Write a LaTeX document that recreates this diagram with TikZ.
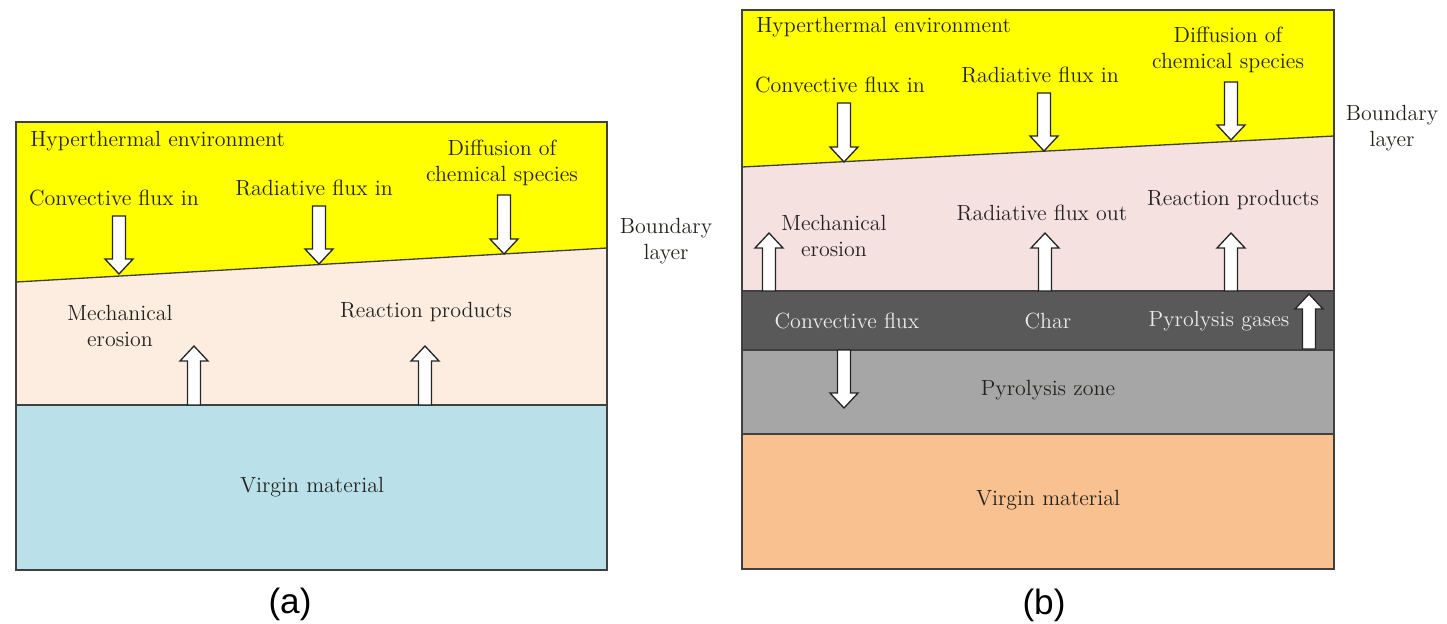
\documentclass[tikz,border=0pt]{standalone}
\usepackage{fontspec}
\setsansfont{Liberation Sans}

\definecolor{hyperyellow}{RGB}{255,255,0}
\definecolor{peach}{RGB}{252,237,224}
\definecolor{virginblue}{RGB}{186,224,234}
\definecolor{pinklayer}{RGB}{246,225,225}
\definecolor{charband}{RGB}{89,89,89}
\definecolor{pyrozone}{RGB}{166,166,166}
\definecolor{virginorange}{RGB}{249,192,144}
\definecolor{txt}{RGB}{35,35,30}

% block arrows: x, start y, tip y (pixel units, y downwards)
\newcommand{\fluxdown}[3]{%
  \filldraw[flux] ({#1-6.5},#2) -- ({#1+6.5},#2) -- ({#1+6.5},{#3-15}) -- ({#1+14},{#3-15})
    -- (#1,#3) -- ({#1-14},{#3-15}) -- ({#1-6.5},{#3-15}) -- cycle;}
\newcommand{\fluxup}[3]{%
  \filldraw[flux] ({#1-6.5},#2) -- ({#1+6.5},#2) -- ({#1+6.5},{#3+15}) -- ({#1+14},{#3+15})
    -- (#1,#3) -- ({#1-14},{#3+15}) -- ({#1-6.5},{#3+15}) -- cycle;}

\begin{document}
\begin{tikzpicture}[x=0.02cm, y=-0.02cm,
  flux/.style={fill=white, draw=black!85, line width=0.75pt},
  frame/.style={draw=black!75, line width=0.75pt},
  lbl/.style={font=\fontsize{12.5}{15}\selectfont, text=txt, align=center, inner sep=0pt},
  darklbl/.style={lbl, text=black!8},
  caption/.style={font=\sffamily\fontsize{20}{22}\selectfont, inner sep=0pt}]

\useasboundingbox (0,0) rectangle (1447,623);

% ---------- panel (a) ----------
\fill[hyperyellow] (16,122) -- (607,122) -- (607,248) -- (16,282) -- cycle;
\fill[peach] (16,282) -- (607,248) -- (607,405) -- (16,405) -- cycle;
\fill[virginblue] (16,405) rectangle (607,570);
\draw[frame] (16,122) rectangle (607,570);
\draw[frame] (16,282) -- (607,248);
\draw[frame] (16,405) -- (607,405);

\node[lbl, anchor=west] (hypA) at (30,141) {Hyperthermal environment};
\node[lbl] (convA) at (114,198) {Convective flux in};
\node[lbl] (radA) at (314,188) {Radiative flux in};
\node[lbl] (diffA) at (502,163) {Diffusion of\\chemical species};
\node[lbl] (blA) at (666,241) {Boundary\\layer};
\node[lbl] (mechA) at (120,326) {Mechanical\\erosion};
\node[lbl] (reacA) at (426,312) {Reaction products};
\node[lbl] (virgA) at (312,487) {Virgin material};
\node[caption] (capA) at (290,604) {(a)};

\fluxdown{119}{216}{274}
\fluxdown{319}{206}{264}
\fluxdown{504}{195}{254}
\fluxup{194}{405}{346}
\fluxup{425}{405}{346}

% ---------- panel (b) ----------
\fill[hyperyellow] (742,10) -- (1334,10) -- (1334,136) -- (742,167) -- cycle;
\fill[pinklayer] (742,167) -- (1334,136) -- (1334,291) -- (742,291) -- cycle;
\fill[charband] (742,291) rectangle (1334,350);
\fill[pyrozone] (742,350) rectangle (1334,434);
\fill[virginorange] (742,434) rectangle (1334,569);
\draw[frame] (742,10) rectangle (1334,569);
\draw[frame] (742,167) -- (1334,136);
\draw[frame] (742,291) -- (1334,291);
\draw[frame] (742,350) -- (1334,350);
\draw[frame] (742,434) -- (1334,434);

\node[lbl, anchor=west] (hypB) at (756,27) {Hyperthermal environment};
\node[lbl] (convB) at (840,85) {Convective flux in};
\node[lbl] (radB) at (1040,75) {Radiative flux in};
\node[lbl] (diffB) at (1228,50) {Diffusion of\\chemical species};
\node[lbl] (blB) at (1392,128) {Boundary\\layer};
\node[lbl] (mechB) at (834,236) {Mechanical\\erosion};
\node[lbl] (radoutB) at (1042,213) {Radiative flux out};
\node[lbl] (reacB) at (1233,200) {Reaction products};
\node[darklbl] (convfB) at (847,321) {Convective flux};
\node[darklbl] (charB) at (1048,321) {Char};
\node[darklbl] (pyrogB) at (1219,321) {Pyrolysis gases};
\node[lbl] (pyrozB) at (1048,390) {Pyrolysis zone};
\node[lbl] (virgB) at (1048,500) {Virgin material};
\node[caption] (capB) at (1044,605) {(b)};

\fluxdown{844}{103}{162}
\fluxdown{1044}{93}{151}
\fluxdown{1231}{82}{140}
\fluxup{769}{291}{233}
\fluxup{1045}{291}{233}
\fluxup{1231}{291}{233}
\fluxup{1309}{349}{294}
\fluxdown{844}{350}{408}

\end{tikzpicture}
\end{document}
